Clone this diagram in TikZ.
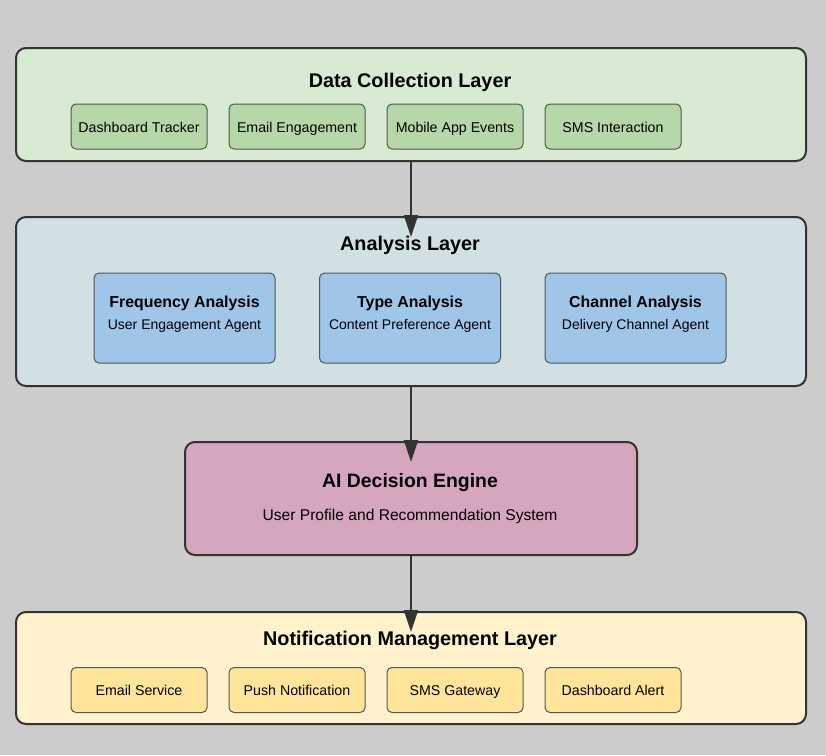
\documentclass[tikz,border=0pt]{standalone}
\usepackage{fontspec}
\setmainfont{Liberation Sans}
\usetikzlibrary{arrows.meta}
\definecolor{bg}{HTML}{CCCCCC}
\definecolor{edge}{HTML}{333333}
\definecolor{sedge}{HTML}{555555}
\definecolor{dcl}{HTML}{D9EAD3}
\definecolor{dcs}{HTML}{B6D7A8}
\definecolor{anl}{HTML}{D0E0E3}
\definecolor{ans}{HTML}{9FC5E8}
\definecolor{aie}{HTML}{D5A6BD}
\definecolor{nml}{HTML}{FFF2CC}
\definecolor{nms}{HTML}{FFE599}
\tikzset{
  layer/.style={draw=edge, line width=2pt, rounded corners=10pt},
  smallbox/.style={draw=sedge, line width=1pt, rounded corners=5pt, minimum width=136pt, minimum height=45pt, inner sep=0pt, text height=12pt, text depth=1pt, font=\fontsize{14.2}{16}\selectfont},
  agentbox/.style={draw=sedge, line width=1pt, rounded corners=5pt, fill=ans},
  ltitle/.style={font=\fontsize{19.8}{22}\selectfont\bfseries, text height=14pt, text depth=4pt},
  atitle/.style={font=\fontsize{15.9}{18}\selectfont\bfseries, text height=11.5pt, text depth=3.5pt},
  asub/.style={font=\fontsize{14}{17}\selectfont, text height=10pt, text depth=3pt},
  flow/.style={draw=edge, line width=2pt, -{Triangle[length=22pt,width=14pt]}, shorten >=-21pt}
}
\begin{document}
\begin{tikzpicture}[x=1pt,y=-1pt]
\fill[bg] (0,0) rectangle (826,755);
\useasboundingbox (0,0) rectangle (826,755);
% Data collection layer
\node[layer, fill=dcl, minimum width=790pt, minimum height=113pt, anchor=north west, inner sep=0pt] (dcl) at (15,47) {};
\node[ltitle] (dclt) at (410,82) {Data Collection Layer};
\node[smallbox, fill=dcs] (d1) at (139,126.5) {Dashboard Tracker};
\node[smallbox, fill=dcs] (d2) at (297,126.5) {Email Engagement};
\node[smallbox, fill=dcs] (d3) at (455,126.5) {Mobile App Events};
\node[smallbox, fill=dcs] (d4) at (613,126.5) {SMS Interaction};
% Analysis layer
\node[layer, fill=anl, minimum width=790pt, minimum height=169pt, anchor=north west, inner sep=0pt] (anl) at (15,216) {};
\node[ltitle] (anlt) at (410,245) {Analysis Layer};
\node[agentbox, minimum width=181pt, minimum height=90pt, inner sep=0pt] (a1) at (184.5,318) {};
\node[agentbox, minimum width=181pt, minimum height=90pt, inner sep=0pt] (a2) at (410,318) {};
\node[agentbox, minimum width=181pt, minimum height=90pt, inner sep=0pt] (a3) at (635.5,318) {};
\node[atitle] (a1t) at (184.5,303) {Frequency Analysis};
\node[asub] (a1s) at (184.5,326) {User Engagement Agent};
\node[atitle] (a2t) at (410,303) {Type Analysis};
\node[asub] (a2s) at (410,326) {Content Preference Agent};
\node[atitle] (a3t) at (635.5,303) {Channel Analysis};
\node[asub] (a3s) at (635.5,326) {Delivery Channel Agent};
% AI decision engine
\node[layer, fill=aie, minimum width=452pt, minimum height=113pt, anchor=north west, inner sep=0pt] (aie) at (184,441) {};
\node[font=\fontsize{19.4}{22}\selectfont\bfseries, text height=14pt, text depth=4pt] (aiet) at (410,482) {AI Decision Engine};
\node[font=\fontsize{15.6}{18}\selectfont, text height=11pt, text depth=3.5pt] (aies) at (410,517) {User Profile and Recommendation System};
% Notification layer
\node[layer, fill=nml, minimum width=790pt, minimum height=112pt, anchor=north west, inner sep=0pt] (nml) at (15,611) {};
\node[ltitle] (nmlt) at (410,640) {Notification Management Layer};
\node[smallbox, fill=nms] (n1) at (139,690) {Email Service};
\node[smallbox, fill=nms] (n2) at (297,690) {Push Notification};
\node[smallbox, fill=nms] (n3) at (455,690) {SMS Gateway};
\node[smallbox, fill=nms] (n4) at (613,690) {Dashboard Alert};
% connectors
\draw[flow] (dcl.south) -- (anl.north);
\draw[flow] (anl.south) -- (aie.north);
\draw[flow] (aie.south) -- (nml.north);
\end{tikzpicture}
\end{document}
